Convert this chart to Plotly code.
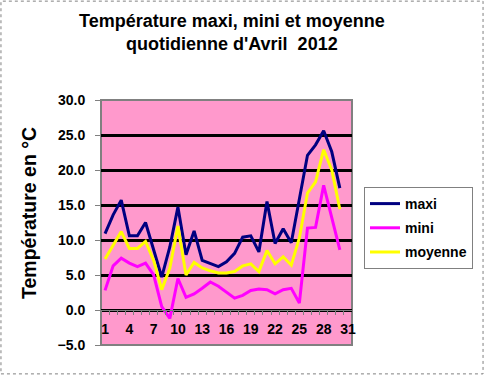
import plotly.graph_objects as go

days = list(range(1, 32))
maxi = [10.9, 13.6, 15.7, 10.6, 10.6, 12.5, 8.6, 4.7, 9.0, 14.7,
        7.9, 11.3, 7.1, 6.7, 6.2, 6.9, 8.1, 10.4, 10.6, 8.3,
        15.5, 9.5, 11.6, 9.6, 15.9, 22.1, 23.6, 25.6, 22.6, 17.4, None]
mini = [2.8, 6.3, 7.4, 6.7, 6.2, 6.7, 5.0, 0.5, -1.2, 4.5,
        1.8, 2.3, 3.1, 4.0, 3.4, 2.6, 1.7, 2.1, 2.8, 3.0,
        2.9, 2.3, 2.9, 3.1, 1.0, 11.7, 11.8, 17.8, 13.3, 8.6, None]
moyenne = [7.3, 9.3, 11.2, 8.8, 8.8, 9.8, 7.1, 2.9, 6.0, 12.0,
           5.0, 6.8, 6.0, 5.6, 5.3, 5.3, 5.5, 6.3, 6.6, 5.5,
           8.5, 6.6, 7.6, 6.4, 10.3, 16.7, 18.3, 22.9, 20.0, 14.4, None]
x_labels = [1, 4, 7, 10, 13, 16, 19, 22, 25, 28, 31]
y_ticks = [-5, 0, 5, 10, 15, 20, 25, 30]
title_lines = ["Température maxi, mini et moyenne", "quotidienne d'Avril  2012"]
y_title = "Température en °C"

W, H = 484, 375
px_l, px_r, px_t, px_b = 101, 352, 100, 345
dom_x = [px_l / W, px_r / W]
dom_y = [1 - px_b / H, 1 - px_t / H]
ymin, ymax = -5, 30
zero_pos = dom_y[0] + (0 - ymin) / (ymax - ymin) * (dom_y[1] - dom_y[0])

font_b = dict(family="Liberation Sans, Arial, sans-serif", color="black", weight="bold")

fig = go.Figure()
for name, vals, col in [("maxi", maxi, "#000080"), ("mini", mini, "#FF00FF"), ("moyenne", moyenne, "#FFFF00")]:
    fig.add_trace(go.Scatter(x=days, y=vals, name=name, mode="lines", legendgroup=name,
                             line=dict(color=col, width=3), connectgaps=False))

fig.update_layout(
    width=W, height=H, margin=dict(l=0, r=0, t=0, b=0, autoexpand=False),
    paper_bgcolor="white", plot_bgcolor="#FF99CC",
    showlegend=True,
    legend=dict(x=364 / W, y=1 - 187 / H, xanchor="left", yanchor="top",
                bgcolor="white", bordercolor="#808080", borderwidth=1,
                font=dict(size=14, **font_b), itemwidth=30, tracegroupgap=3),
    xaxis=dict(domain=dom_x, range=[0.5, 31.5], anchor="free", position=zero_pos,
               tickvals=x_labels, ticks="", showgrid=False, zeroline=False,
               showline=True, linecolor="#808080", linewidth=1,
               tickfont=dict(size=14, **font_b), ticklabelstandoff=6,
               minor=dict(tickvals=[d + 0.5 for d in range(0, 32)], ticks="outside",
                          ticklen=4, tickcolor="#808080", showgrid=False)),
    yaxis=dict(domain=dom_y, range=[ymin, ymax], tickvals=y_ticks, tickformat=".1f",
               showgrid=True, gridcolor="black", gridwidth=2.5, zeroline=False,
               ticks="outside", ticklen=5, tickcolor="#808080",
               tickfont=dict(size=14, **font_b), ticklabelstandoff=7),
)

for i, t in enumerate(title_lines):
    fig.add_annotation(text=t, xref="paper", yref="paper", x=232 / W, y=1 - (21 + 23 * i) / H,
                       xanchor="center", yanchor="middle", showarrow=False,
                       font=dict(size=18, **font_b))
fig.add_annotation(text=y_title, xref="paper", yref="paper", x=29 / W, y=1 - 213 / H,
                   xanchor="center", yanchor="middle", showarrow=False, textangle=-90,
                   font=dict(size=19.5, **font_b))

fig.add_shape(type="rect", xref="x domain", yref="y domain", x0=0, x1=1, y0=0, y1=1,
              line=dict(color="#808080", width=2), layer="below")
fig.add_shape(type="rect", xref="paper", yref="paper", x0=0.002, x1=0.998, y0=0.003, y1=0.997,
              line=dict(color="#808080", width=1, dash="dot"))

fig.write_html("out.html", config={"displayModeBar": False},
               post_script="document.body.style.margin='0';")
